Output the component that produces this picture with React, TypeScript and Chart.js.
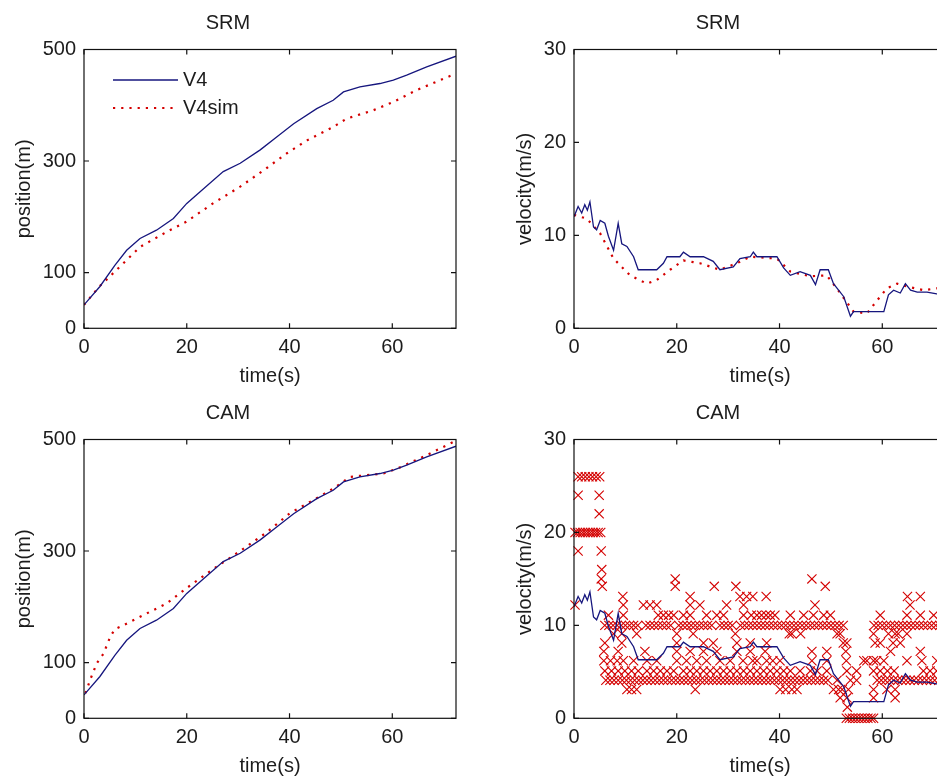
import React, { useEffect, useRef } from 'react';
import { Chart, registerables } from 'chart.js';

Chart.register(...registerables);

// ---------- data ----------
const xTicks = [0, 20, 40, 60];
const posTicks = [0, 100, 300, 500];
const velTicks = [0, 10, 20, 30];
const tMax = 72.4;

// measured position V4 (same in SRM and CAM panels)
const posT = [0, 3.1, 6.0, 8.3, 10.9, 14.1, 17.4, 20, 22.6, 27.1, 30.4, 34.3, 37.5, 40.8, 45.3, 48.5, 50.5, 53.7, 57.6, 60.2, 62.8, 66.7, 72.4];
const posV4 = [42, 75, 113, 140, 161, 176, 197, 224, 245, 281, 296, 320, 343, 367, 394, 409, 424, 433, 439, 445, 454, 469, 488];

// SRM simulated position
const srmSimT = [0, 3, 5.7, 10.9, 16.1, 19.9, 25.1, 30.4, 35.5, 39.5, 43.4, 48.5, 51.1, 56.3, 60.2, 64.7, 72.4];
const srmSimPos = [42, 75, 99, 146, 173, 191, 224, 254, 287, 314, 337, 361, 376, 391, 406, 427, 457];

// CAM simulated position
const camSimT = [0.3, 1.2, 2.5, 3.8, 5.1, 6.0, 7.7, 12.2, 16.1, 19.9, 25.2, 30.4, 35.5, 40.1, 44.6, 48.5, 51.8, 55.0, 58.3, 61.5, 66.7, 72.4];
const camSimPos = [45, 69, 99, 116, 146, 160, 167, 188, 206, 233, 268, 300, 333, 368, 391, 412, 433, 436, 439, 450, 472, 498];

// measured velocity V4
const velT = [0, 0.8, 1.5, 2.1, 2.6, 3.1, 3.8, 4.4, 5.1, 6.0, 6.7, 7.7, 8.6, 9.3, 10.3, 11.6, 12.5, 16.1, 17.4, 18.1, 20.6, 21.3, 22.6, 25.2, 27.1, 28.4, 31.0, 32.3, 34.3, 34.9, 35.6, 39.5, 40.8, 42.1, 44.0, 46.0, 47.0, 47.9, 49.5, 50.5, 52.5, 53.8, 54.4, 60.3, 61.2, 62.2, 63.5, 64.5, 65.5, 66.8, 68.7, 70.6, 72.4];
const velV4 = [12.0, 13.1, 12.4, 13.3, 12.7, 13.6, 10.9, 10.6, 11.6, 11.3, 9.9, 8.4, 11.3, 9.1, 8.8, 7.7, 6.3, 6.3, 7.0, 7.7, 7.7, 8.2, 7.7, 7.7, 7.2, 6.3, 6.6, 7.5, 7.7, 8.2, 7.7, 7.7, 6.5, 5.7, 6.1, 5.7, 4.7, 6.3, 6.3, 4.8, 3.4, 1.3, 1.8, 1.8, 3.6, 4.1, 3.8, 4.8, 4.1, 3.9, 3.9, 3.7, 3.6];

// SRM simulated velocity
const simVelT = [0, 2.5, 5.1, 7.7, 10.9, 14.2, 16.1, 18.7, 21.3, 24.5, 28.4, 31.7, 34.3, 39.5, 42.1, 46.0, 49.2, 51.8, 54.4, 57.0, 59.0, 60.9, 62.9, 64.8, 68.1, 70.6, 72.4];
const simVelV = [12.2, 11.8, 10.2, 7.5, 5.7, 4.8, 5.2, 6.3, 7.3, 7.0, 6.3, 7.0, 7.7, 7.5, 6.1, 5.6, 5.7, 3.8, 1.8, 1.6, 3.0, 4.3, 4.8, 4.5, 4.1, 4.3, 4.2];

// CAM velocity measurements (x markers): velocity levels and the times at each level
const camLevels = [26, 24, 22, 20, 18, 16, 15, 14.2, 13.1, 12.2, 11.1, 10, 9.1, 8.1, 7.2, 6.2, 5.1, 4.1, 3.1, 2.2, 1.2, 0];
const camTimes = [
  [0.8, 1.5, 2.2, 2.9, 3.6, 4.3, 5.0],
  [0.8, 4.9],
  [4.9],
  [0.2, 0.7, 1.2, 1.7, 2.2, 2.7, 3.2, 3.7, 4.2, 4.7, 5.2],
  [0.8, 5.3],
  [5.4],
  [5.3, 19.7, 46.3],
  [5.5, 19.7, 27.3, 31.5, 48.9],
  [9.5, 22.6, 32.3, 33.6, 34.8, 37.4, 64.9, 67.4],
  [0.2, 9.6, 13.5, 14.8, 16.1, 22.6, 24.5, 29.7, 33.0, 46.9, 65.4],
  [6.7, 9.6, 16.4, 17.4, 18.4, 19.4, 21.3, 22.6, 25.8, 27.8, 29.1, 33.0, 34.5, 35.6, 36.5, 37.4, 38.2, 39.1, 42.1, 44.7, 46.6, 48.6, 49.9, 59.6, 64.8, 67.4, 70.0],
  [6.0, 6.8, 7.6, 8.4, 9.2, 10.0, 10.8, 11.6, 12.4, 14.0, 14.8, 15.6, 16.4, 17.2, 18.0, 18.8, 20.4, 21.2, 22.0, 22.8, 23.6, 24.4, 25.2, 26.0, 26.8, 28.4, 29.2, 30.0, 30.8, 32.4, 33.2, 34.0, 34.8, 35.6, 36.4, 37.2, 38.0, 38.8, 39.6, 40.4, 41.2, 42.0, 42.8, 43.6, 44.4, 45.2, 46.0, 46.8, 47.6, 48.4, 49.2, 50.0, 50.8, 51.6, 52.4, 58.4, 59.2, 60.0, 60.8, 61.6, 62.4, 63.2, 64.0, 64.8, 65.6, 66.4, 67.2, 68.0, 68.8, 69.6, 70.4, 71.2, 72.0],
  [7.7, 9.3, 12.2, 20.0, 23.2, 31.4, 41.9, 42.4, 44.1, 51.2, 51.8, 58.3, 61.2, 62.5, 63.1, 64.8],
  [6.0, 9.3, 20.0, 25.2, 27.1, 31.7, 34.3, 37.5, 52.4, 53.1, 58.6, 59.6, 62.1, 63.5],
  [5.8, 8.6, 13.8, 20.0, 22.6, 25.2, 27.8, 31.7, 34.3, 37.2, 46.3, 49.2, 52.9, 61.6, 67.4],
  [5.8, 7.1, 8.4, 9.6, 11.6, 14.2, 16.1, 20.0, 21.9, 23.9, 25.8, 28.4, 30.4, 32.9, 34.8, 35.6, 37.5, 38.7, 40.1, 46.3, 49.2, 53.0, 56.4, 57.0, 58.3, 58.9, 60.3, 64.8, 67.7, 70.6],
  [6.0, 7.3, 8.6, 9.9, 11.2, 12.5, 14.2, 15.5, 16.8, 18.1, 19.4, 21.3, 22.6, 23.9, 25.2, 26.5, 27.8, 29.1, 30.4, 31.7, 33.0, 34.3, 35.6, 36.9, 38.2, 39.5, 40.8, 42.1, 44.0, 46.0, 47.3, 49.2, 53.1, 55.0, 58.3, 59.6, 61.0, 62.3, 68.0, 69.3, 70.6, 71.8],
  [6.2, 7.0, 7.8, 8.6, 9.4, 10.2, 11.0, 11.8, 12.6, 13.4, 14.2, 15.0, 15.8, 16.6, 17.4, 18.2, 19.0, 19.8, 20.6, 21.4, 22.2, 23.0, 23.8, 24.6, 25.4, 26.2, 27.0, 27.8, 28.6, 29.4, 30.2, 31.0, 31.8, 32.6, 33.4, 34.2, 35.0, 35.8, 36.6, 37.4, 38.2, 39.0, 39.8, 40.6, 41.4, 42.2, 43.0, 43.8, 44.6, 45.4, 46.2, 47.0, 47.8, 48.6, 49.4, 51.2, 53.8, 55.0, 59.0, 59.8, 60.6, 61.4, 62.2, 63.0, 63.8, 64.6, 65.4, 66.2, 67.0, 67.8, 68.6, 69.4, 70.2, 71.0, 71.8],
  [10.3, 11.2, 12.2, 23.6, 40.1, 41.2, 42.4, 43.4, 50.5, 51.5, 52.2, 53.4, 58.3, 60.9, 62.5],
  [51.8, 53.1, 58.3, 62.5],
  [53.2],
  [53.0, 53.6, 54.2, 54.8, 55.4, 56.0, 56.6, 57.2, 57.8, 58.3],
];

// ---------- styling ----------
const FONT_FAMILY = "'Liberation Sans', Arial, Helvetica, sans-serif";
const TEXT = '#1c1c1c';
const BLUE = '#16167e';
const RED = '#d40000';
const font = { family: FONT_FAMILY, size: 20, weight: 'normal' as const };

function pts(xs: number[], ys: number[]) {
  return xs.map((x, i) => ({ x, y: ys[i] }));
}

function camPoints() {
  const out: { x: number; y: number }[] = [];
  camLevels.forEach((lv, i) => camTimes[i].forEach((t) => out.push({ x: t, y: lv })));
  return out;
}

const framePlugin = {
  id: 'frame',
  afterDatasetsDraw(chart: any) {
    const { ctx, chartArea: a, scales } = chart;
    const xs = scales.x;
    const ys = scales.y;
    ctx.save();
    ctx.strokeStyle = '#111';
    ctx.lineWidth = 1.2;
    ctx.strokeRect(a.left, a.top, a.right - a.left, a.bottom - a.top);
    const L = 5;
    ctx.beginPath();
    xs.ticks.forEach((tk: any) => {
      const px = xs.getPixelForValue(tk.value);
      ctx.moveTo(px, a.bottom);
      ctx.lineTo(px, a.bottom - L);
      ctx.moveTo(px, a.top);
      ctx.lineTo(px, a.top + L);
    });
    ys.ticks.forEach((tk: any) => {
      const py = ys.getPixelForValue(tk.value);
      ctx.moveTo(a.left, py);
      ctx.lineTo(a.left + L, py);
      ctx.moveTo(a.right, py);
      ctx.lineTo(a.right - L, py);
    });
    ctx.stroke();
    ctx.restore();
  },
};

const legendPlugin = {
  id: 'innerLegend',
  afterDraw(chart: any) {
    const { ctx, chartArea: a } = chart;
    const ds = chart.data.datasets;
    ctx.save();
    const x0 = a.left + 29;
    const x1 = a.left + 94;
    const rows = [a.top + 30.5, a.top + 58.5];
    rows.forEach((y, i) => {
      const d = ds[i];
      ctx.strokeStyle = d.borderColor;
      ctx.lineWidth = d.borderWidth;
      ctx.setLineDash(d.borderDash || []);
      ctx.beginPath();
      ctx.moveTo(x0, y);
      ctx.lineTo(x1, y);
      ctx.stroke();
      ctx.setLineDash([]);
      ctx.fillStyle = TEXT;
      ctx.font = `normal 20px ${FONT_FAMILY}`;
      ctx.textBaseline = 'middle';
      ctx.textAlign = 'left';
      ctx.fillText(d.label, x1 + 5, y);
    });
    ctx.restore();
  },
};

function makeConfig(opts: {
  title: string;
  yTitle: string;
  yTicks: number[];
  yMax: number;
  yTitlePad: number;
  datasets: any[];
  legend?: boolean;
}) {
  return {
    type: 'line' as const,
    data: { datasets: opts.datasets },
    options: {
      responsive: false,
      animation: false as const,
      events: [],
      layout: { padding: { left: 0, right: 14, top: 0, bottom: 0 } },
      elements: { point: { radius: 0 }, line: { tension: 0 } },
      plugins: {
        legend: { display: false },
        tooltip: { enabled: false },
        title: {
          display: true,
          text: opts.title,
          color: TEXT,
          font,
          padding: { top: 11, bottom: 14.5 },
        },
      },
      scales: {
        x: {
          type: 'linear' as const,
          min: 0,
          max: tMax,
          grid: { display: false, drawTicks: false },
          border: { display: false },
          afterBuildTicks: (s: any) => {
            s.ticks = xTicks.map((v) => ({ value: v }));
          },
          afterFit: (s: any) => {
            s.height = 61.7;
          },
          ticks: { color: TEXT, font, padding: 7, maxRotation: 0, autoSkip: false },
          title: { display: true, text: 'time(s)', color: TEXT, font, padding: { top: 0, bottom: 2 } },
        },
        y: {
          type: 'linear' as const,
          min: 0,
          max: opts.yMax,
          grid: { display: false, drawTicks: false },
          border: { display: false },
          afterBuildTicks: (s: any) => {
            s.ticks = opts.yTicks.map((v) => ({ value: v }));
          },
          afterFit: (s: any) => {
            s.width = 84;
          },
          ticks: { color: TEXT, font, padding: 8, autoSkip: false },
          title: { display: true, text: opts.yTitle, color: TEXT, font, padding: { top: opts.yTitlePad, bottom: 0 } },
        },
      },
    },
    plugins: opts.legend ? [framePlugin, legendPlugin] : [framePlugin],
  };
}

const blueLine = (label: string, data: any[]) => ({
  label,
  data,
  borderColor: BLUE,
  borderWidth: 1.3,
  pointRadius: 0,
  fill: false,
});

const redDots = (label: string, data: any[]) => ({
  label,
  data,
  borderColor: RED,
  borderWidth: 2.2,
  borderDash: [2.2, 6],
  pointRadius: 0,
  fill: false,
});

const panels = [
  {
    left: 0,
    top: 0,
    cfg: () =>
      makeConfig({
        title: 'SRM',
        yTitle: 'position(m)',
        yTicks: posTicks,
        yMax: 500,
        yTitlePad: 12,
        legend: true,
        datasets: [blueLine('V4', pts(posT, posV4)), redDots('V4sim', pts(srmSimT, srmSimPos))],
      }),
  },
  {
    left: 490,
    top: 0,
    cfg: () =>
      makeConfig({
        title: 'SRM',
        yTitle: 'velocity(m/s)',
        yTicks: velTicks,
        yMax: 30,
        yTitlePad: 23,
        datasets: [blueLine('V4', pts(velT, velV4)), redDots('V4sim', pts(simVelT, simVelV))],
      }),
  },
  {
    left: 0,
    top: 390,
    cfg: () =>
      makeConfig({
        title: 'CAM',
        yTitle: 'position(m)',
        yTicks: posTicks,
        yMax: 500,
        yTitlePad: 12,
        datasets: [blueLine('V4', pts(posT, posV4)), redDots('V4sim', pts(camSimT, camSimPos))],
      }),
  },
  {
    left: 490,
    top: 390,
    cfg: () =>
      makeConfig({
        title: 'CAM',
        yTitle: 'velocity(m/s)',
        yTicks: velTicks,
        yMax: 30,
        yTitlePad: 23,
        datasets: [
          blueLine('V4', pts(velT, velV4)),
          {
            label: 'V4sim',
            data: camPoints(),
            showLine: false,
            pointStyle: 'crossRot',
            pointRadius: 6.5,
            pointBorderColor: RED,
            pointBorderWidth: 1.1,
            borderColor: RED,
            clip: false,
          },
        ],
      }),
  },
];

export default function App() {
  const refs = useRef<(HTMLCanvasElement | null)[]>([]);

  useEffect(() => {
    const charts = panels.map((p, i) => new Chart(refs.current[i] as HTMLCanvasElement, p.cfg() as any));
    return () => charts.forEach((c) => c.destroy());
  }, []);

  return (
    <div
      style={{
        position: 'fixed',
        left: 0,
        top: 0,
        width: 937,
        height: 776,
        overflow: 'hidden',
        background: '#ffffff',
      }}
    >
      {panels.map((p, i) => (
        <canvas
          key={i}
          ref={(el) => {
            refs.current[i] = el;
          }}
          width={470}
          height={390}
          style={{ position: 'absolute', left: p.left, top: p.top, width: 470, height: 390 }}
        />
      ))}
    </div>
  );
}
